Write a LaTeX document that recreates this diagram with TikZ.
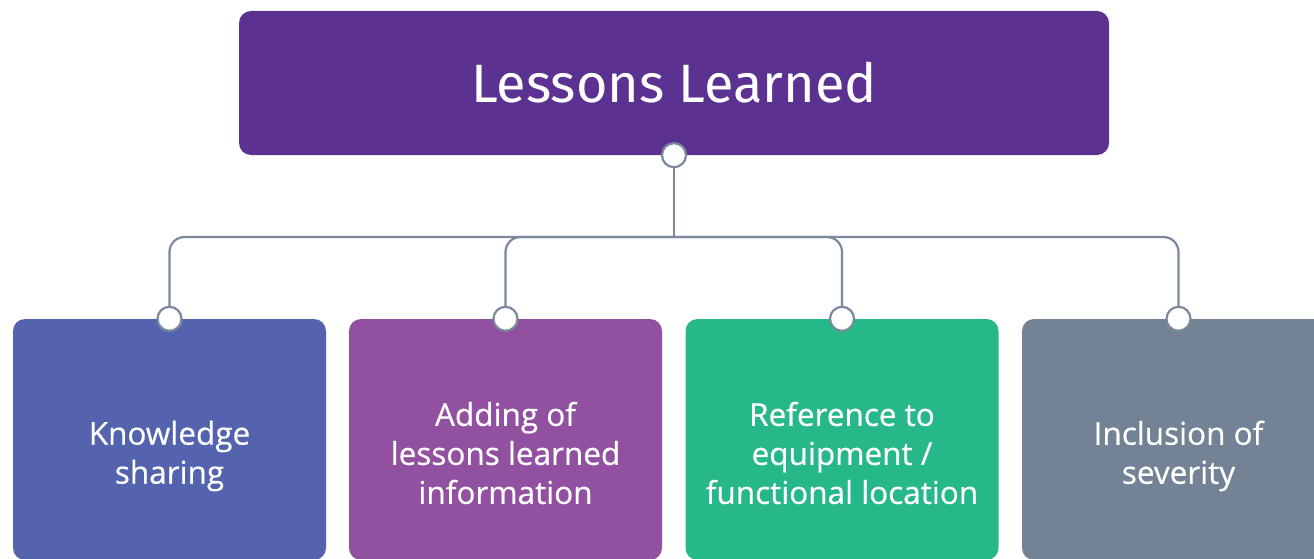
\documentclass[tikz,border=0pt]{standalone}
\usepackage{fontspec}
\setmainfont{Open Sans}
\newfontfamily\boxfont{Open Sans}[FakeBold=0.5]
\newfontfamily\titlefont{Fira Sans}
\usepackage{tikz}
\usetikzlibrary{positioning}

\definecolor{headpurple}{RGB}{91,49,145}
\definecolor{boxblue}{RGB}{83,99,174}
\definecolor{boxviolet}{RGB}{145,81,160}
\definecolor{boxgreen}{RGB}{38,184,136}
\definecolor{boxslate}{RGB}{115,130,148}
\definecolor{linegray}{RGB}{122,138,156}

\tikzset{
  box/.style={rounded corners=12pt, minimum width=313pt, minimum height=241pt, inner sep=0pt},
  boxtext/.style={text=white, align=center, font=\boxfont\fontsize{31.5}{39}\selectfont},
  link/.style={draw=linegray, line width=2.2pt, rounded corners=15pt},
  knob/.style={circle, draw=linegray, line width=2.2pt, fill=white, minimum size=24pt, inner sep=0pt}
}

\begin{document}
\begin{tikzpicture}[x=1pt,y=-1pt]
  \useasboundingbox (0,0) rectangle (1314,559);
  \clip (0,0) rectangle (1314,559);

  % head box
  \node[rounded corners=12pt, fill=headpurple, minimum width=870pt, minimum height=144pt] (lessons) at (674,83) {};
  \node[text=white, font=\titlefont\fontsize{54}{60}\selectfont] (lessonstxt) at (674,83) {Lessons Learned};

  % the four boxes
  \node[box, fill=boxblue] (knowledge) at (169.5,439.5) {};
  \node[box, fill=boxviolet] (adding) at (505.5,439.5) {};
  \node[box, fill=boxgreen] (reference) at (842,439.5) {};
  \node[box, fill=boxslate] (severity) at (1178.5,439.5) {};

  \node[boxtext] (knowledgetxt) at (169.5,456) {Knowledge\\sharing};
  \node[boxtext] (addingtxt) at (505.5,453) {Adding of\\lessons learned\\information};
  \node[boxtext] (referencetxt) at (842,453) {Reference to\\equipment /\\functional location};
  \node[boxtext] (severitytxt) at (1178.5,456) {Inclusion of\\severity};

  % connectors
  \coordinate (hub) at (674,237);
  \draw[link] (lessons.south) -- (hub);
  \draw[link] (hub) -| (knowledge.north);
  \draw[link] (hub) -| (adding.north);
  \draw[link] (hub) -| (reference.north);
  \draw[link] (hub) -| (severity.north);

  \node[knob] (lessonsknob) at (lessons.south) {};
  \node[knob] (knowledgeknob) at (knowledge.north) {};
  \node[knob] (addingknob) at (adding.north) {};
  \node[knob] (referenceknob) at (reference.north) {};
  \node[knob] (severityknob) at (severity.north) {};
\end{tikzpicture}
\end{document}
